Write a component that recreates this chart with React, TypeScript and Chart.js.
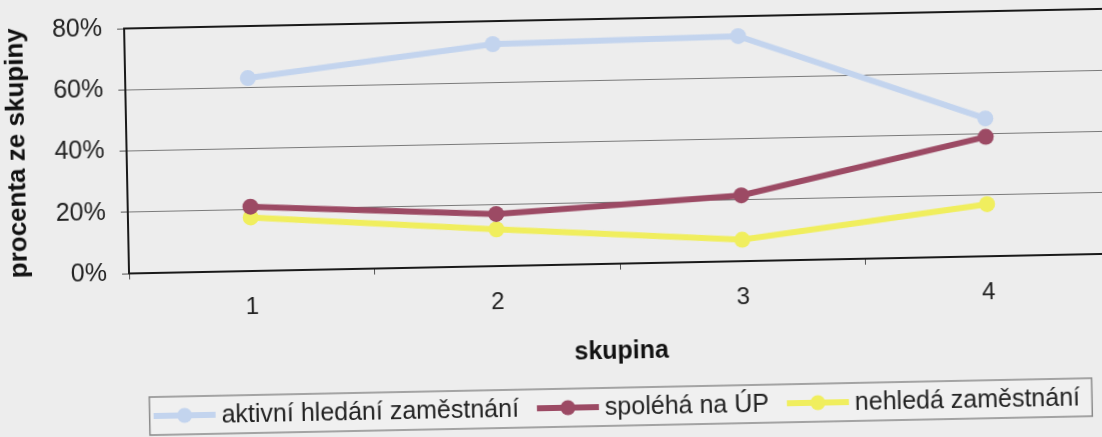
import React, { useEffect, useRef } from "react";
import { Chart, registerables } from "chart.js";

Chart.register(...registerables);

const categories = ["1", "2", "3", "4"];
const seriesNames = ["aktivní hledání zaměstnání", "spoléhá na ÚP", "nehledá zaměstnání"];
const aktivniHledani = [63, 72.5, 73.5, 45];
const spolehaNaUP = [21, 17, 21.5, 39];
const nehledaZamestnani = [17.5, 12, 7, 17];
const yTicks = [0, 20, 40, 60, 80];
const xTitle = "skupina";
const yTitle = "procenta ze skupiny";

const seriesColors = ["#c3d4ee", "#9c4a64", "#f0ee5e"];
const FONT = "'Liberation Sans', Arial, sans-serif";

const frameBorder = {
  id: "frameBorder",
  beforeDatasetsDraw(chart: any) {
    const { ctx, chartArea } = chart;
    ctx.save();
    ctx.strokeStyle = "#1a1a1a";
    ctx.lineWidth = 2;
    ctx.strokeRect(chartArea.left, chartArea.top, chartArea.right - chartArea.left, chartArea.bottom - chartArea.top);
    ctx.restore();
  },
};

const boxLegend = {
  id: "boxLegend",
  afterDraw(chart: any) {
    const { ctx, chartArea } = chart;
    const ds = chart.data.datasets;
    ctx.save();
    ctx.font = `25px ${FONT}`;
    const markerW = 62;
    const markerGap = 6;
    const itemGap = 18;
    const padL = 4;
    const padR = 12;
    const widths = ds.map((d: any) => ctx.measureText(d.label).width);
    let total = padL + padR;
    widths.forEach((w: number, i: number) => {
      total += markerW + markerGap + w + (i < widths.length - 1 ? itemGap : 0);
    });
    const cx = (chartArea.left + chartArea.right) / 2 - 2;
    const left = cx - total / 2;
    const top = 389;
    const height = 38;
    const cy = top + height / 2;
    ctx.fillStyle = "#f0f0f0";
    ctx.fillRect(left, top, total, height);
    ctx.strokeStyle = "#8a8a8a";
    ctx.lineWidth = 1.5;
    ctx.strokeRect(left, top, total, height);
    let x = left + padL;
    ds.forEach((d: any, i: number) => {
      ctx.strokeStyle = d.borderColor;
      ctx.lineWidth = 6;
      ctx.beginPath();
      ctx.moveTo(x, cy);
      ctx.lineTo(x + markerW, cy);
      ctx.stroke();
      ctx.fillStyle = d.borderColor;
      ctx.beginPath();
      ctx.arc(x + 31, cy, 7.5, 0, Math.PI * 2);
      ctx.fill();
      ctx.fillStyle = "#222";
      ctx.textBaseline = "middle";
      ctx.textAlign = "left";
      ctx.fillText(d.label, x + markerW + markerGap, cy + 1);
      x += markerW + markerGap + widths[i] + itemGap;
    });
    ctx.restore();
  },
};

export default function App() {
  const ref = useRef<HTMLCanvasElement | null>(null);
  useEffect(() => {
    if (!ref.current) return;
    const values = [aktivniHledani, spolehaNaUP, nehledaZamestnani];
    const chart = new Chart(ref.current, {
      type: "line",
      data: {
        labels: categories,
        datasets: values.map((v, i) => ({
          label: seriesNames[i],
          data: v,
          borderColor: seriesColors[i],
          backgroundColor: seriesColors[i],
          pointBackgroundColor: seriesColors[i],
          pointBorderWidth: 0,
          pointRadius: 8,
          borderWidth: 6,
          tension: 0,
          fill: false,
        })),
      },
      options: {
        animation: false,
        responsive: false,
        devicePixelRatio: 1,
        layout: { padding: { left: 0, top: 20, right: 30, bottom: 82 } },
        plugins: { legend: { display: false }, tooltip: { enabled: false } },
        scales: {
          x: {
            offset: true,
            afterFit: (s: any) => {
              s.height = 103;
              s.paddingLeft = 0;
              s.paddingRight = 0;
            },
            grid: {
              display: true,
              drawOnChartArea: false,
              drawTicks: true,
              tickLength: 6,
              offset: true,
              tickColor: "#555",
            },
            border: { display: false },
            ticks: { color: "#222", font: { family: FONT, size: 24 }, padding: 16 },
            title: {
              display: true,
              text: xTitle,
              color: "#111",
              font: { family: FONT, size: 25, weight: "bold" },
              padding: { top: 0, bottom: 0 },
            },
          },
          y: {
            min: 0,
            max: 80,
            afterFit: (s: any) => {
              s.width = 128;
              s.paddingTop = 0;
              s.paddingBottom = 0;
            },
            afterBuildTicks: (s: any) => {
              s.ticks = yTicks.map((v) => ({ value: v }));
            },
            grid: {
              color: "#7a7a7a",
              lineWidth: 1,
              drawTicks: true,
              tickLength: 7,
              tickColor: "#555",
            },
            border: { display: false },
            ticks: {
              color: "#222",
              font: { family: FONT, size: 25 },
              padding: 15,
              callback: (v: any) => `${v}%`,
            },
            title: {
              display: true,
              text: yTitle,
              color: "#111",
              font: { family: FONT, size: 26, weight: "bold" },
              padding: { top: 3, bottom: 0 },
            },
          },
        },
      },
      plugins: [frameBorder, boxLegend],
    });
    return () => chart.destroy();
  }, []);

  return (
    <div
      style={{
        position: "fixed",
        left: 0,
        top: 0,
        width: "100vw",
        height: "100vh",
        overflow: "hidden",
        background: "#ededed",
      }}
    >
      <div
        style={{
          position: "absolute",
          left: 0,
          top: 0,
          width: 1140,
          height: 450,
          transformOrigin: "551px 218px",
          transform: "rotate(-1.15deg)",
        }}
      >
        <canvas ref={ref} width={1140} height={450} />
      </div>
    </div>
  );
}
